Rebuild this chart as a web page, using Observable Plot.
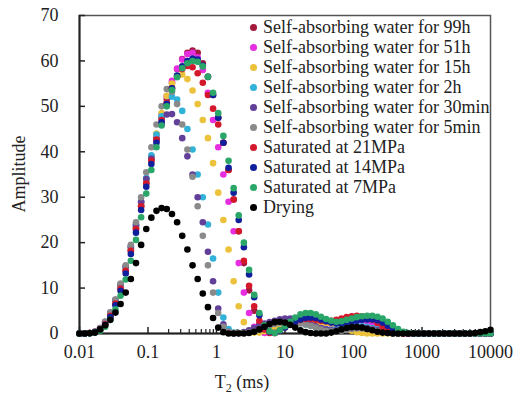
<!DOCTYPE html>
<html><head><meta charset="utf-8">
<script src="https://cdn.jsdelivr.net/npm/d3@7"></script>
<script src="https://cdn.jsdelivr.net/npm/@observablehq/plot@0.6"></script>
<style>
body{margin:0;background:#fff;}
#wrap{position:relative;width:518px;height:398px;font-family:"Liberation Serif","Times New Roman",serif;color:#222;}
#legend{position:absolute;left:248px;top:17px;font-size:18px;line-height:20px;}
.row{height:20px;display:flex;align-items:center;white-space:nowrap}
.sw{width:7px;height:7px;border-radius:50%;margin-right:6.5px;margin-left:1.5px;flex:none}
</style></head><body><div id="wrap"><div id="legend"></div></div>
<script>
const T2 = [0.01, 0.0119, 0.0141, 0.0168, 0.02, 0.0237, 0.0282, 0.0335, 0.0398, 0.0473,
 0.0562, 0.0668, 0.0794, 0.0944, 0.112, 0.133, 0.158, 0.188, 0.224, 0.266,
 0.316, 0.376, 0.447, 0.531, 0.631, 0.75, 0.891, 1.06, 1.26, 1.5,
 1.78, 2.11, 2.51, 2.99, 3.55, 4.22, 5.01, 5.96, 7.08, 8.41,
 10, 11.9, 14.1, 16.8, 20, 23.7, 28.2, 33.5, 39.8, 47.3,
 56.2, 66.8, 79.4, 94.4, 112, 133, 158, 188, 224, 266,
 316, 376, 447, 531, 631, 750, 891, 1060, 1260, 1500,
 1780, 2110, 2510, 2990, 3550, 4220, 5010, 5960, 7080, 8410,
 10000];

const water99h = [0, 0, 0.1, 0.3, 0.9, 2.1, 3.9, 6.6, 9.9, 13.8,
 18.2, 23, 28, 33.2, 38.2, 43, 47.5, 51.6, 55.2, 58.2,
 60.4, 61.8, 62.3, 61.8, 59.5, 56.5, 52.5, 47.5, 42, 36,
 29.5, 22.5, 15.5, 9.5, 5, 2, 0.5, 0.1, 0.5, 1.0,
 1.6, 2.1, 2.6, 2.9, 3.0, 2.9, 2.7, 2.5, 2.4, 2.4,
 2.6, 2.9, 3.1, 3.3, 3.3, 3.2, 2.9, 2.5, 1.9, 1.3,
 0.7, 0.3, 0.1, 0, 0, 0, 0, 0, 0, 0,
 0, 0, 0, 0, 0, 0, 0, 0, 0, 0,
 0];
const water51h = [0, 0, 0.1, 0.35, 1.0, 2.3, 4.2, 7, 10.4, 14.4,
 18.8, 23.6, 28.8, 34, 39, 43.8, 48.2, 52.2, 55.6, 58.3,
 60.3, 61.5, 61.8, 60.8, 58, 53, 47, 41, 35, 29,
 22.5, 15.5, 9, 4.5, 1.5, 0.4, 0.1, 0.4, 0.8, 1.3,
 1.8, 2.3, 2.7, 2.9, 3.0, 2.9, 2.7, 2.4, 2.2, 2.1,
 2.1, 2.3, 2.5, 2.7, 2.8, 2.8, 2.7, 2.4, 2.0, 1.5,
 1.0, 0.5, 0.2, 0, 0, 0, 0, 0, 0, 0,
 0, 0, 0, 0, 0, 0, 0, 0, 0, 0,
 0];
const water15h = [0, 0, 0.1, 0.35, 1.0, 2.3, 4.2, 6.9, 10.2, 14.2,
 18.6, 23.4, 28.5, 33.8, 39, 44, 48.5, 52.3, 55, 56.6,
 57, 56, 53.5, 50.5, 47, 43, 37.5, 31, 25, 18.5,
 11.5, 6, 2.5, 0.7, 0.2, 0.2, 0.5, 0.9, 1.3, 1.7,
 2.1, 2.4, 2.6, 2.7, 2.7, 2.6, 2.5, 2.4, 2.3, 2.2,
 2.0, 1.6, 1.1, 0.6, 0.3, 0.1, 0, 0, 0, 0,
 0, 0, 0, 0, 0, 0, 0, 0, 0, 0,
 0, 0, 0, 0, 0, 0, 0, 0, 0, 0,
 0];
const water2h = [0, 0, 0.1, 0.4, 1.1, 2.5, 4.4, 7.2, 10.6, 14.6,
 19, 23.8, 29, 34.2, 39.2, 43.8, 47.8, 50.8, 52.1, 51.5,
 49, 45, 40.5, 35, 30, 24, 16.5, 9, 3.5, 1,
 0.2, 0.1, 0.2, 0.5, 0.9, 1.3, 1.7, 2.0, 2.3, 2.5,
 2.6, 2.6, 2.5, 2.3, 2.0, 1.7, 1.4, 1.1, 0.9, 0.8,
 0.9, 1.1, 1.3, 1.5, 1.6, 1.6, 1.5, 1.2, 0.9, 0.5,
 0.2, 0.1, 0, 0, 0, 0, 0, 0, 0, 0,
 0, 0, 0, 0, 0, 0, 0, 0, 0, 0,
 0];
const water30min = [0, 0, 0.1, 0.4, 1.2, 2.6, 4.6, 7.4, 10.8, 14.8,
 19.2, 24, 29, 34, 38.5, 42.5, 46, 48.2, 48.3, 46.5,
 43, 39, 35, 30, 24.5, 18, 11.5, 5.5, 2, 0.4,
 0, 0.1, 0.3, 0.7, 1.2, 1.7, 2.2, 2.5, 2.8, 3.1,
 3.3, 3.3, 3.1, 2.8, 2.4, 2.0, 1.6, 1.2, 0.9, 0.7,
 0.7, 0.8, 1.0, 1.2, 1.3, 1.3, 1.2, 1.0, 0.7, 0.4,
 0.2, 0.1, 0, 0, 0, 0, 0, 0, 0, 0,
 0, 0, 0, 0, 0, 0, 0, 0, 0, 0,
 0];
const water5min = [0, 0, 0.1, 0.4, 1.2, 2.6, 4.6, 7.5, 11, 15,
 19.5, 24.5, 30, 35.5, 41, 46, 50, 53.8, 53.2, 50.5,
 46, 40.5, 34.5, 28, 21.5, 15, 9, 4.5, 1.5, 0.4,
 0.1, 0.1, 0.1, 0.2, 0.4, 0.8, 1.3, 1.8, 2.1, 2.3,
 2.4, 2.4, 2.3, 2.2, 2.0, 1.7, 1.3, 0.9, 0.6, 0.5,
 0.5, 0.6, 0.8, 1.0, 1.1, 1.1, 1.0, 0.8, 0.5, 0.3,
 0.1, 0, 0, 0, 0, 0, 0, 0, 0, 0,
 0, 0, 0, 0, 0, 0, 0, 0, 0, 0,
 0];
const sat21 = [0, 0, 0.1, 0.3, 0.9, 2.1, 3.9, 6.6, 9.9, 13.8,
 18.2, 23, 28, 33, 38, 42.7, 47, 50.8, 54, 56.6,
 58.2, 58.9, 58.6, 57.3, 55.2, 52.5, 49.5, 46, 42, 36,
 29.5, 22.5, 16, 10.5, 6, 2.8, 0.9, 0.2, 0.1, 0.6,
 1.3, 2.0, 2.6, 3.0, 3.2, 3.2, 3.0, 2.8, 2.7, 2.8,
 3.0, 3.3, 3.6, 3.8, 3.9, 3.8, 3.5, 3.0, 2.3, 1.5,
 0.8, 0.3, 0.1, 0, 0, 0, 0, 0, 0, 0,
 0, 0, 0, 0, 0, 0, 0, 0, 0, 0,
 0];
const sat14 = [0, 0, 0.05, 0.25, 0.8, 1.9, 3.6, 6.2, 9.4, 13.2,
 17.5, 22.2, 27.2, 32.3, 37.3, 42, 46.5, 50.5, 54, 56.8,
 58.8, 60, 60.5, 60.3, 59, 56.5, 52.5, 47.5, 42, 36.5,
 31, 25, 19, 13, 8, 4, 1.5, 0.4, 0.1, 0.6,
 1.3, 2.0, 2.6, 3.1, 3.4, 3.5, 3.4, 3.1, 2.7, 2.4,
 2.2, 2.2, 2.4, 2.6, 2.8, 3.0, 3.1, 3.1, 2.9, 2.4,
 1.7, 1.0, 0.5, 0.2, 0, 0, 0, 0, 0, 0,
 0, 0, 0, 0, 0, 0, 0, 0, 0, 0,
 0];
const sat7 = [0, 0, 0.05, 0.2, 0.6, 1.5, 3, 5.3, 8.3, 11.9,
 16, 20.6, 25.6, 30.8, 36, 41, 45.8, 50, 53.6, 56.4,
 58.4, 59.5, 60, 59.8, 58.8, 56.5, 53, 48.5, 43.5, 38,
 32, 26, 20, 14, 8.5, 4.5, 1.8, 0.5, 0.1, 0.7,
 1.6, 2.6, 3.5, 4.2, 4.5, 4.5, 4.2, 3.7, 3.2, 2.8,
 2.6, 2.7, 3.0, 3.3, 3.6, 3.8, 3.9, 3.9, 3.7, 3.3,
 2.6, 1.8, 1.0, 0.4, 0.1, 0, 0, 0, 0, 0,
 0, 0, 0, 0, 0, 0, 0, 0, 0, 0,
 0];
const drying = [0, 0, 0.05, 0.2, 0.9, 1.8, 3.0, 4.6, 6.5, 9.0,
 12.0, 15.5, 19.5, 23.0, 25.5, 27.0, 27.6, 27.4, 26.3, 24.5,
 21.5, 18.5, 15.0, 12.0, 8.8, 5.8, 3.4, 1.3, 0.3, 0,
 0, 0, 0, 0.1, 0.4, 0.9, 1.5, 2.1, 2.5, 2.6,
 2.4, 1.9, 1.3, 0.7, 0.3, 0.1, 0, 0, 0, 0.2,
 0.5, 0.9, 1.2, 1.4, 1.4, 1.3, 1.0, 0.7, 0.4, 0.2,
 0.1, 0, 0, 0, 0, 0, 0, 0, 0, 0,
 0, 0, 0, 0, 0, 0, 0, 0.1, 0.3, 0.5,
 0.8];

const seriesNames = ["Self-absorbing water for 99h", "Self-absorbing water for 51h", "Self-absorbing water for 15h",
 "Self-absorbing water for 2h", "Self-absorbing water for 30min", "Self-absorbing water for 5min",
 "Saturated at 21MPa", "Saturated at 14MPa", "Saturated at 7MPa", "Drying"];
const seriesColors = ["#a3183c", "#e62ee0", "#ecc23c", "#31b2d8", "#62409a", "#8a8a8a", "#d4182c", "#10209c", "#2aa768", "#000000"];
const seriesValues = [water99h, water51h, water15h, water2h, water30min, water5min, sat21, sat14, sat7, drying];

const xTicks = [0.01, 0.1, 1, 10, 100, 1000, 10000];
const xTickLabels = ["0.01", "0.1", "1", "10", "100", "1000", "10000"];
const xMinor = [0.2, 0.3, 0.4, 0.5, 0.6, 0.7, 0.8, 0.9, 2, 3, 4, 5, 6, 7, 8, 9, 20, 30, 40, 50, 60, 70, 80, 90,
 200, 300, 400, 500, 600, 700, 800, 900, 2000, 3000, 4000, 5000, 6000, 7000, 8000, 9000];
const yTicks = [0, 10, 20, 30, 40, 50, 60, 70];

const data = seriesNames.flatMap((name, j) => seriesValues[j].map((a, i) => ({t: T2[i], a, s: name})));

const plot = Plot.plot({
  width: 518, height: 398,
  marginLeft: 79, marginRight: 28, marginTop: 15, marginBottom: 65,
  style: {fontFamily: "Liberation Serif, 'Times New Roman', serif", fontSize: "18px", color: "#222", background: "#fff", overflow: "visible"},
  x: {type: "log", domain: [0.01, 10000]},
  y: {domain: [0, 70]},
  color: {domain: seriesNames, range: seriesColors},
  marks: [
    Plot.frame({stroke: "#555", strokeWidth: 1.5}),
    Plot.ruleX([0.01], {stroke: "#222", strokeWidth: 2}),
    Plot.ruleY([0], {stroke: "#222", strokeWidth: 2}),
    Plot.tickX(xMinor, {stroke: "#222", strokeWidth: 1.2, insetTop: 314}),
    Plot.tickX(xTicks, {stroke: "#222", strokeWidth: 1.5, insetTop: 312}),
    Plot.tickY(yTicks, {stroke: "#222", strokeWidth: 1.5, insetRight: 405}),
    Plot.axisX({ticks: xTicks, tickSize: 0, tickPadding: 12, tickFormat: d => xTickLabels[xTicks.indexOf(d)], label: null}),
    Plot.axisY({ticks: yTicks, tickSize: 0, tickPadding: 21, label: null}),
    Plot.dot(data, {x: "t", y: "a", fill: "s", r: 3.3})
  ]
});
plot.style.position = "absolute";
plot.style.left = "0";
plot.style.top = "0";
const wrap = document.getElementById("wrap");
wrap.insertBefore(plot, wrap.firstChild);

const svg = d3.select(plot);
const xl = svg.append("text").attr("x", 242).attr("y", 388).attr("fill", "#222")
  .style("font-family", "Liberation Serif, serif").style("font-size", "18px");
xl.append("tspan").text("T");
xl.append("tspan").attr("dy", 4).style("font-size", "12px").text("2");
xl.append("tspan").attr("dy", -4).text(" (ms)");
svg.append("text").attr("transform", "translate(25,174) rotate(-90)").attr("text-anchor", "middle")
  .attr("fill", "#222").style("font-family", "Liberation Serif, serif").style("font-size", "18px").text("Amplitude");

const legend = d3.select("#legend");
seriesNames.forEach((name, j) => {
  const row = legend.append("div").attr("class", "row");
  row.append("div").attr("class", "sw").style("background", seriesColors[j]);
  row.append("span").text(name);
});
</script></body></html>
